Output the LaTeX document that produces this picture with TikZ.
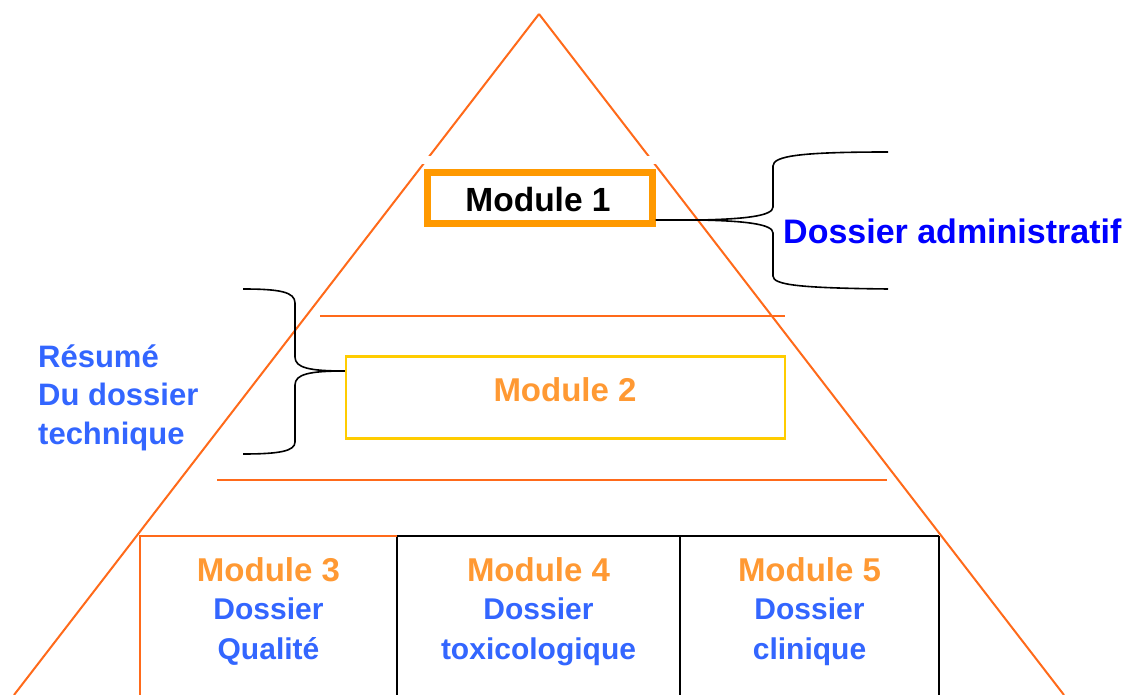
\documentclass[tikz,border=0pt]{standalone}
\usepackage{fontspec}
\setmainfont{Liberation Sans}
\definecolor{triorange}{HTML}{FF6A1A}
\definecolor{boxorange}{HTML}{FF9900}
\definecolor{modorange}{HTML}{FF9933}
\definecolor{boxyellow}{HTML}{FFCC00}
\definecolor{lightblue}{HTML}{3366FF}
\definecolor{deepblue}{HTML}{0000FF}
\tikzset{
  triline/.style={draw=triorange, line width=2pt},
  bracestyle/.style={draw=black, line width=1.6pt},
  celline/.style={draw=black, line width=2pt},
  modtxt/.style={text=modorange, font=\fontsize{33}{38}\selectfont\bfseries, anchor=base, inner sep=0pt},
  bluetxt/.style={text=lightblue, font=\fontsize{30}{36}\selectfont\bfseries, anchor=base, inner sep=0pt},
}
\begin{document}
\begin{tikzpicture}[x=1pt,y=-1pt]
\useasboundingbox[fill=white] (0,0) rectangle (1128,695);
% pyramid sides
\coordinate (apex) at (539,14);
\coordinate (bl) at (14,695);
\coordinate (br) at (1064,695);
\draw[triline] (apex) -- (bl);
\draw[triline] (apex) -- (br);
% white band cutting the sides
\fill[white] (415,156) rectangle (665,164);
% horizontal layer lines
\coordinate (h1a) at (320,316); \coordinate (h1b) at (785,316);
\coordinate (h2a) at (217,480); \coordinate (h2b) at (887,480);
\draw[triline] (h1a) -- (h1b);
\draw[triline] (h2a) -- (h2b);
% Module 1
\node[draw=boxorange, line width=7pt, fill=white, minimum width=225pt, minimum height=51pt, inner sep=0pt] (m1) at (539.5,198) {};
\node[anchor=base, inner sep=0pt, font=\fontsize{33.5}{38}\selectfont\bfseries] (m1t) at (538,212) {Module 1};
% Module 2
\node[draw=boxyellow, line width=2.5pt, minimum width=439pt, minimum height=82pt, inner sep=0pt] (m2) at (565.5,397.5) {};
\node[modtxt] (m2t) at (565,401) {Module 2};
% right brace
\coordinate (rb1) at (888,152);
\coordinate (rb2) at (888,289);
\coordinate (rtip) at (700,220);
\draw[bracestyle] (rb1) .. controls (800,152) and (773,156) .. (773,166) -- (773,207)
   .. controls (773,216) and (745,219) .. (rtip) -- (m1.east |- rtip);
\draw[bracestyle] (rtip) .. controls (745,221) and (773,224) .. (773,233) -- (773,276)
   .. controls (773,285) and (800,288) .. (rb2);
\node[text=deepblue, font=\fontsize{34}{38}\selectfont\bfseries, anchor=base west, inner sep=0pt] (adm) at (783,244) {Dossier administratif};
% left brace
\coordinate (lb1) at (243,289);
\coordinate (lb2) at (243,454);
\coordinate (ltip) at (m2.west |- 0,371);
\draw[bracestyle] (lb1) .. controls (280,289) and (295,292) .. (295,303) -- (295,357)
   .. controls (295,368) and (310,371) .. (ltip);
\draw[bracestyle] (ltip) .. controls (310,371) and (295,374) .. (295,385) -- (295,442)
   .. controls (295,451) and (280,454) .. (lb2);
\node[text=lightblue, font=\fontsize{31}{38.5}\selectfont\bfseries, align=left, anchor=base west, inner sep=0pt] (res) at (38,444)
  {Résumé\\Du dossier\\technique};
% bottom cells
\coordinate (c0) at (140,536); \coordinate (c1) at (397,536);
\coordinate (c2) at (680,536); \coordinate (c3) at (939,536);
\coordinate (d0) at (140,697); \coordinate (d1) at (397,697);
\coordinate (d2) at (680,697); \coordinate (d3) at (939,697);
\draw[celline] (c1) -- (c3);
\draw[celline] (c1) -- (d1);
\draw[celline] (c2) -- (d2);
\draw[celline] (c3) -- (d3);
\draw[triline] (d0) -- (c0) -- (c1);
% cell texts
\node[modtxt] (m3) at (268.5,581) {Module 3};
\node[bluetxt] (m3a) at (268.5,619) {Dossier};
\node[bluetxt] (m3b) at (268.5,659) {Qualité};
\node[modtxt] (m4) at (538.5,581) {Module 4};
\node[bluetxt] (m4a) at (538.5,619) {Dossier};
\node[bluetxt] (m4b) at (538.5,659) {toxicologique};
\node[modtxt] (m5) at (809.5,581) {Module 5};
\node[bluetxt] (m5a) at (809.5,619) {Dossier};
\node[bluetxt] (m5b) at (809.5,659) {clinique};
\end{tikzpicture}
\end{document}
